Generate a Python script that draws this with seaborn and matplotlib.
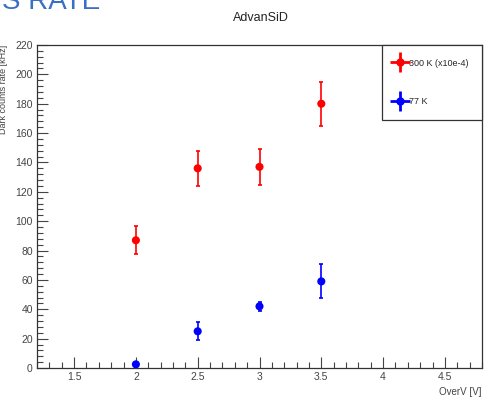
import numpy as np
import matplotlib
matplotlib.use("Agg")
import matplotlib.pyplot as plt
import pandas as pd
import seaborn as sns
from matplotlib.lines import Line2D
from matplotlib.legend_handler import HandlerTuple
from matplotlib.ticker import MultipleLocator

# Data
overv = [2.0, 2.5, 3.0, 3.5]
rate_300k = [87, 136, 137, 180]
err_300k = [9.5, 12, 12.5, 15]
rate_77k = [2.5, 25, 42, 59]
err_77k = [1.5, 6, 3, 11.5]
series_labels = ["300 K (x10e-4)", "77 K"]
series_colors = ["#ff0000", "#0000ff"]

df = pd.DataFrame({
    "overv": overv * 2,
    "rate": rate_300k + rate_77k,
    "err": err_300k + err_77k,
    "series": [series_labels[0]] * 4 + [series_labels[1]] * 4,
})

sns.set_theme(style="ticks")
plt.rcParams["font.family"] = ["Liberation Sans", "DejaVu Sans"]

fig = plt.figure(figsize=(4.88, 3.98), dpi=100)
ax = fig.add_axes([37 / 488, 1 - 368 / 398, 445 / 488, 323 / 398])

sns.scatterplot(data=df, x="overv", y="rate", hue="series",
                palette=series_colors, s=34, edgecolor="none", legend=False, ax=ax, zorder=3)
for lab, col in zip(series_labels, series_colors):
    sub = df[df["series"] == lab]
    ax.errorbar(sub["overv"], sub["rate"], yerr=sub["err"], fmt="none",
                ecolor=col, elinewidth=1.2, capsize=1.5, capthick=1.2, zorder=2)

ax.set_xlim(1.2, 4.8)
ax.set_ylim(0, 220)
ax.xaxis.set_major_locator(MultipleLocator(0.5))
ax.xaxis.set_minor_locator(MultipleLocator(0.1))
ax.yaxis.set_major_locator(MultipleLocator(20))
ax.yaxis.set_minor_locator(MultipleLocator(4))
ax.set_xticks([1.5, 2, 2.5, 3, 3.5, 4, 4.5])
ax.set_xticklabels(["1.5", "2", "2.5", "3", "3.5", "4", "4.5"])
ax.tick_params(which="major", direction="in", length=8, width=0.8, color="#444444",
               labelsize=7.5, labelcolor="#444444", pad=3)
ax.tick_params(which="minor", direction="in", length=4, width=0.8, color="#444444")
for s in ax.spines.values():
    s.set_linewidth(0.9)
    s.set_color("#333333")

ax.set_xlabel("OverV [V]", fontsize=7, color="#444444")
ax.xaxis.set_label_coords(1.0, -0.06)
ax.xaxis.label.set_ha("right")
ax.set_ylabel("Dark counts rate [kHz]", fontsize=6.5, color="#444444")
ax.yaxis.set_label_coords(-0.065, 1.0)
ax.yaxis.label.set_ha("right")

fig.text(0.535, 0.955, "AdvanSiD", ha="center", va="center", fontsize=9, color="#222222")
fig.text(0.005, 0.995, "S RATE", ha="left", va="center", fontsize=20, color="#3a6fc4")

handles = []
for col in series_colors:
    cross = Line2D([], [], color=col, marker="+", markersize=15, markeredgewidth=2.0, linestyle="none")
    dot = Line2D([], [], color=col, marker="o", markersize=5, linestyle="none")
    handles.append((cross, dot))
leg = ax.legend(handles, series_labels, handler_map={tuple: HandlerTuple(ndivide=1)},
                loc="upper right", bbox_to_anchor=(1.0, 1.0), fontsize=6.5, frameon=True,
                fancybox=False, edgecolor="#333333", framealpha=1, borderpad=1.5,
                labelspacing=3.3, handlelength=1.0, handletextpad=0.5, borderaxespad=0)
leg.get_frame().set_linewidth(0.9)

fig.savefig("out.png", dpi=100)
